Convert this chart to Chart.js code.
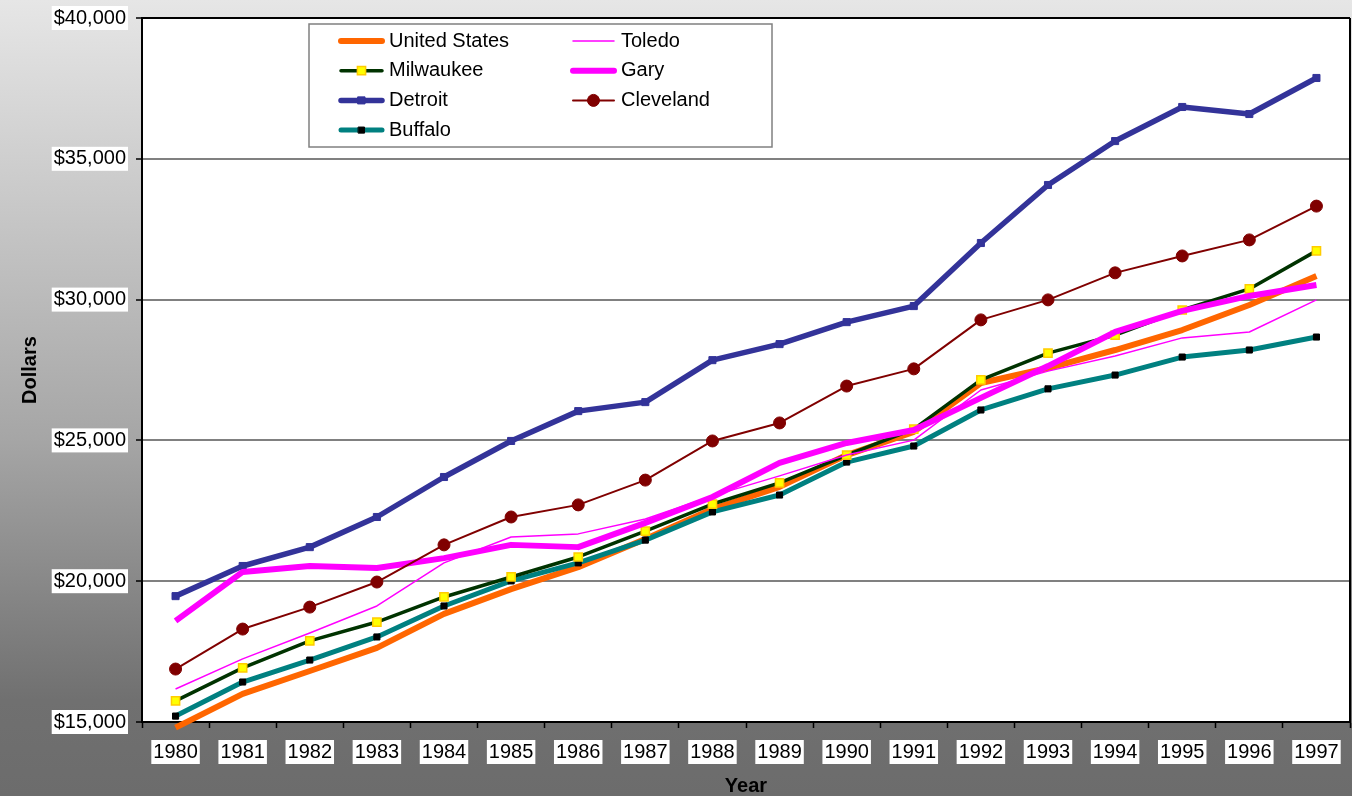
<!DOCTYPE html>
<html>
<head>
<meta charset="utf-8">
<script src="https://cdn.jsdelivr.net/npm/chart.js@4.4.0/dist/chart.umd.min.js"></script>
<style>
  html, body { margin: 0; padding: 0; background: #fff; }
  canvas { display: block; }
</style>
</head>
<body>
<canvas id="chart" width="1352" height="796"></canvas>
<script>
// data
const years = ['1980','1981','1982','1983','1984','1985','1986','1987','1988','1989','1990','1991','1992','1993','1994','1995','1996','1997'];
const unitedStates = [14800, 16000, 16810, 17630, 18840, 19720, 20500, 21500, 22560, 23350, 24480, 25300, 27040, 27570, 28210, 28920, 29810, 30840];
const milwaukee    = [15750, 16920, 17880, 18550, 19440, 20150, 20860, 21780, 22740, 23490, 24480, 25400, 27150, 28100, 28740, 29630, 30380, 31730];
const detroit      = [19470, 20540, 21210, 22280, 23700, 24980, 26040, 26360, 27850, 28420, 29200, 29770, 32010, 34070, 35630, 36840, 36590, 37870];
const buffalo      = [15210, 16420, 17200, 18020, 19120, 20010, 20650, 21460, 22460, 23060, 24230, 24800, 26080, 26830, 27320, 27960, 28210, 28670];
const toledo       = [16170, 17240, 18160, 19120, 20650, 21570, 21680, 22210, 23030, 23740, 24480, 25010, 26790, 27460, 28000, 28640, 28850, 29990];
const gary         = [18590, 20330, 20540, 20470, 20820, 21290, 21210, 22070, 22990, 24200, 24910, 25370, 26510, 27640, 28850, 29600, 30130, 30520];
const cleveland    = [16880, 18300, 19080, 19970, 21290, 22280, 22710, 23590, 24980, 25620, 26930, 27540, 29280, 29990, 30950, 31550, 32120, 33320];

const legendOrder = ['United States', 'Toledo', 'Milwaukee', 'Gary', 'Detroit', 'Cleveland', 'Buffalo'];
const FONT = "'Liberation Sans', Arial, sans-serif";

function money(v) {
  return '$' + Number(v).toLocaleString('en-US');
}

// keep the plot area where the original has it: labels may hang outside it
const fixedAreaPlugin = {
  id: 'fixedArea',
  beforeLayout(chart) {
    Object.values(chart.scales).forEach(s => {
      s.getPadding = () => ({ left: 0, top: 0, right: 0, bottom: 0 });
    });
  },
  afterLayout(chart) {
    const right = chart.width - 2;
    const a = chart.chartArea;
    a.right = right;
    a.width = right - a.left;
    const x = chart.scales.x;
    x.right = right;
    x.width = right - x.left;
    x.configure();
  }
};

// gray gradient behind everything, white plot area
const backdropPlugin = {
  id: 'backdrop',
  beforeDraw(chart) {
    const { ctx, width, height, chartArea } = chart;
    ctx.save();
    const g = ctx.createLinearGradient(0, 0, 0, height);
    g.addColorStop(0, '#e6e6e6');
    g.addColorStop(0.55, '#a6a6a6');
    g.addColorStop(0.88, '#707070');
    g.addColorStop(1, '#6c6c6c');
    ctx.fillStyle = g;
    ctx.fillRect(0, 0, width, height);
    ctx.fillStyle = '#ffffff';
    ctx.fillRect(chartArea.left, chartArea.top, chartArea.right - chartArea.left, chartArea.bottom - chartArea.top);
    ctx.restore();
  }
};

// two column legend box like the original
const boxLegendPlugin = {
  id: 'boxLegend',
  afterDraw(chart) {
    const { ctx, chartArea } = chart;
    ctx.save();
    // right border of plot area
    ctx.strokeStyle = '#000';
    ctx.lineWidth = 2;
    ctx.beginPath();
    ctx.moveTo(chartArea.right, chartArea.top);
    ctx.lineTo(chartArea.right, chartArea.bottom);
    ctx.stroke();

    const bx = 309, by = 24, bw = 463, bh = 123;
    ctx.fillStyle = '#fff';
    ctx.fillRect(bx, by, bw, bh);
    ctx.strokeStyle = '#808080';
    ctx.lineWidth = 1.5;
    ctx.strokeRect(bx, by, bw, bh);

    ctx.font = '20px ' + FONT;
    ctx.textBaseline = 'middle';
    ctx.fillStyle = '#000';
    legendOrder.forEach((name, i) => {
      const ds = chart.data.datasets.find(d => d.label === name);
      const col = i % 2, row = Math.floor(i / 2);
      const x0 = col === 0 ? 341 : 573;
      const x1 = x0 + 41;
      const y = 41 + row * 29.7;
      ctx.strokeStyle = ds.borderColor;
      ctx.lineWidth = ds.borderWidth;
      ctx.lineCap = 'round';
      ctx.beginPath();
      ctx.moveTo(x0, y);
      ctx.lineTo(x1, y);
      ctx.stroke();
      if (ds.pointRadius > 0) {
        ctx.fillStyle = ds.pointBackgroundColor;
        ctx.strokeStyle = ds.pointBorderColor;
        ctx.lineWidth = ds.pointBorderWidth;
        Chart.helpers.drawPoint(ctx, {
          pointStyle: ds.pointStyle,
          radius: ds.pointRadius,
          borderWidth: ds.pointBorderWidth,
          rotation: 0
        }, (x0 + x1) / 2, y);
      }
      ctx.fillStyle = '#000';
      ctx.fillText(name, x1 + 7, y);
    });
    ctx.restore();
  }
};

function line(label, data, color, width, order, extra) {
  return Object.assign({
    label: label,
    data: data,
    borderColor: color,
    backgroundColor: color,
    borderWidth: width,
    borderJoinStyle: 'round',
    tension: 0,
    fill: false,
    pointRadius: 0,
    pointHoverRadius: 0,
    order: order
  }, extra || {});
}

const datasets = [
  line('United States', unitedStates, '#ff6600', 6, 7, { clip: 10 }),
  line('Toledo', toledo, '#ff00ff', 1.5, 3),
  line('Milwaukee', milwaukee, '#003300', 3.5, 4, {
    pointStyle: 'rect', pointRadius: 5.8, pointBackgroundColor: '#ffff00',
    pointBorderColor: '#ffcc00', pointBorderWidth: 1.5
  }),
  line('Gary', gary, '#ff00ff', 6, 2),
  line('Detroit', detroit, '#333399', 5.5, 6, {
    pointStyle: 'rect', pointRadius: 5, pointBackgroundColor: '#333399',
    pointBorderColor: '#333399', pointBorderWidth: 1
  }),
  line('Cleveland', cleveland, '#800000', 2, 1, {
    pointStyle: 'circle', pointRadius: 6, pointBackgroundColor: '#800000',
    pointBorderColor: '#800000', pointBorderWidth: 1
  }),
  line('Buffalo', buffalo, '#008080', 5, 5, {
    pointStyle: 'rect', pointRadius: 4.3, pointBackgroundColor: '#000000',
    pointBorderColor: '#000000', pointBorderWidth: 1
  })
];

new Chart(document.getElementById('chart'), {
  type: 'line',
  data: { labels: years, datasets: datasets },
  plugins: [fixedAreaPlugin, backdropPlugin, boxLegendPlugin],
  options: {
    responsive: false,
    animation: false,
    events: [],
    layout: { padding: { left: 0, right: 2, top: 18, bottom: 0 } },
    plugins: {
      legend: { display: false },
      title: { display: false },
      tooltip: { enabled: false }
    },
    scales: {
      x: {
        offset: true,
        afterFit: (s) => { s.height = 74; },
        grid: {
          offset: true,
          drawOnChartArea: false,
          drawTicks: true,
          tickLength: 6,
          tickColor: '#000',
          tickWidth: 1.5
        },
        border: { display: true, color: '#000', width: 2 },
        ticks: {
          color: '#000',
          font: { family: FONT, size: 20 },
          padding: 12,
          maxRotation: 0,
          autoSkip: false,
          showLabelBackdrop: true,
          backdropColor: '#ffffff',
          backdropPadding: { left: 2, right: 2, top: 0, bottom: 0 }
        },
        title: {
          display: true,
          text: 'Year',
          color: '#000',
          font: { family: FONT, size: 20, weight: 'bold', lineHeight: 1 },
          padding: { top: 0, bottom: 0 }
        }
      },
      y: {
        min: 15000,
        max: 40000,
        afterFit: (s) => { s.width = 142; },
        grid: {
          color: (c) => (c.tick && c.tick.value === 40000 ? '#000' : '#808080'),
          lineWidth: 2,
          drawTicks: true,
          tickLength: 6,
          tickColor: '#000',
          tickWidth: 1.5
        },
        border: { display: true, color: '#000', width: 2 },
        ticks: {
          stepSize: 5000,
          color: '#000',
          font: { family: FONT, size: 20 },
          padding: 10,
          callback: (v) => money(v),
          showLabelBackdrop: true,
          backdropColor: '#ffffff',
          backdropPadding: { left: 2, right: 2, top: 0, bottom: 0 }
        },
        title: {
          display: true,
          text: 'Dollars',
          color: '#000',
          font: { family: FONT, size: 20, weight: 'bold', lineHeight: 1.2 },
          padding: { top: 18, bottom: 0 }
        }
      }
    }
  }
});
</script>
</body>
</html>
